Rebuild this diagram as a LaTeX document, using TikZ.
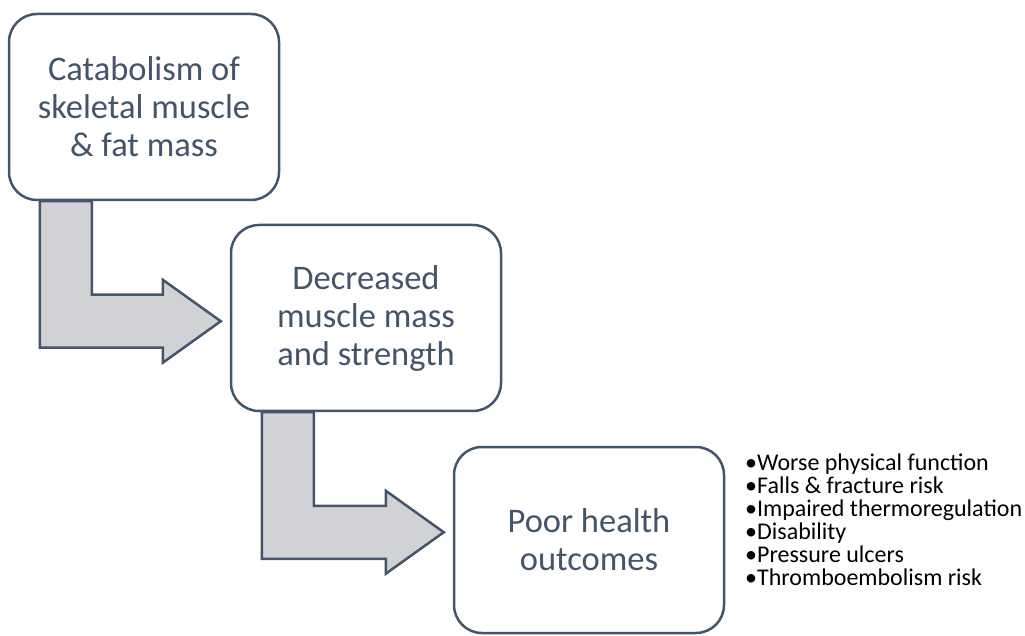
\documentclass[tikz,border=0pt]{standalone}
\usepackage{fontspec}
\setmainfont{Carlito}
\usetikzlibrary{calc,positioning,backgrounds}

\definecolor{slate}{HTML}{44546A}
\definecolor{arrowgray}{RGB}{208,210,214}

\tikzset{
  stage/.style={draw=slate, line width=2.5pt, fill=white, rounded corners=28pt,
    minimum width=270pt, minimum height=186pt, inner sep=0pt,
    text=slate, align=center, font=\fontsize{34.5}{38}\selectfont},
  bent/.style={draw=slate, fill=arrowgray, line width=2.5pt, line join=miter},
}

\begin{document}
\begin{tikzpicture}[x=1pt,y=1pt]
            \useasboundingbox (0,0) rectangle (1025,635);

            \node[stage] (cat) at (144,528) {Catabolism of\\skeletal muscle\\\& fat mass};
            \node[stage] (dec) at (366,317) {Decreased\\muscle mass\\and strength};
            \node[stage] (poor) at (589,95) {Poor health\\outcomes};

            \node[anchor=west, align=left, inner sep=0pt,
              font=\fontsize{24}{23}\selectfont] (risks) at (745,115)
              {•Worse physical function\\•Falls \& fracture risk\\•Impaired thermoregulation\\•Disability\\•Pressure ulcers\\•Thromboembolism risk};

            % bent arrows between the stages
            \begin{scope}[on background layer]
              \foreach \src/\dst in {cat/dec,dec/poor}{
                \coordinate (b1) at ($(\src.south west)+(32,0)$);
                \coordinate (b2) at ($(\src.south west)+(84,0)$);
                \coordinate (m) at ($(\src.south west)+(0,-120)$);
                \coordinate (e) at ($(\dst.west)+(-9,0)$);
                \coordinate (tip) at (m -| e);
                \draw[bent] (b1) |- ($(tip)+(-58,-26.5)$) -- ++(0,-15) -- (tip)
                  -- ($(tip)+(-58,41.5)$) -- ++(0,-15) -| (b2) -- cycle;
              }
            \end{scope}
          \end{tikzpicture}
\end{document}
